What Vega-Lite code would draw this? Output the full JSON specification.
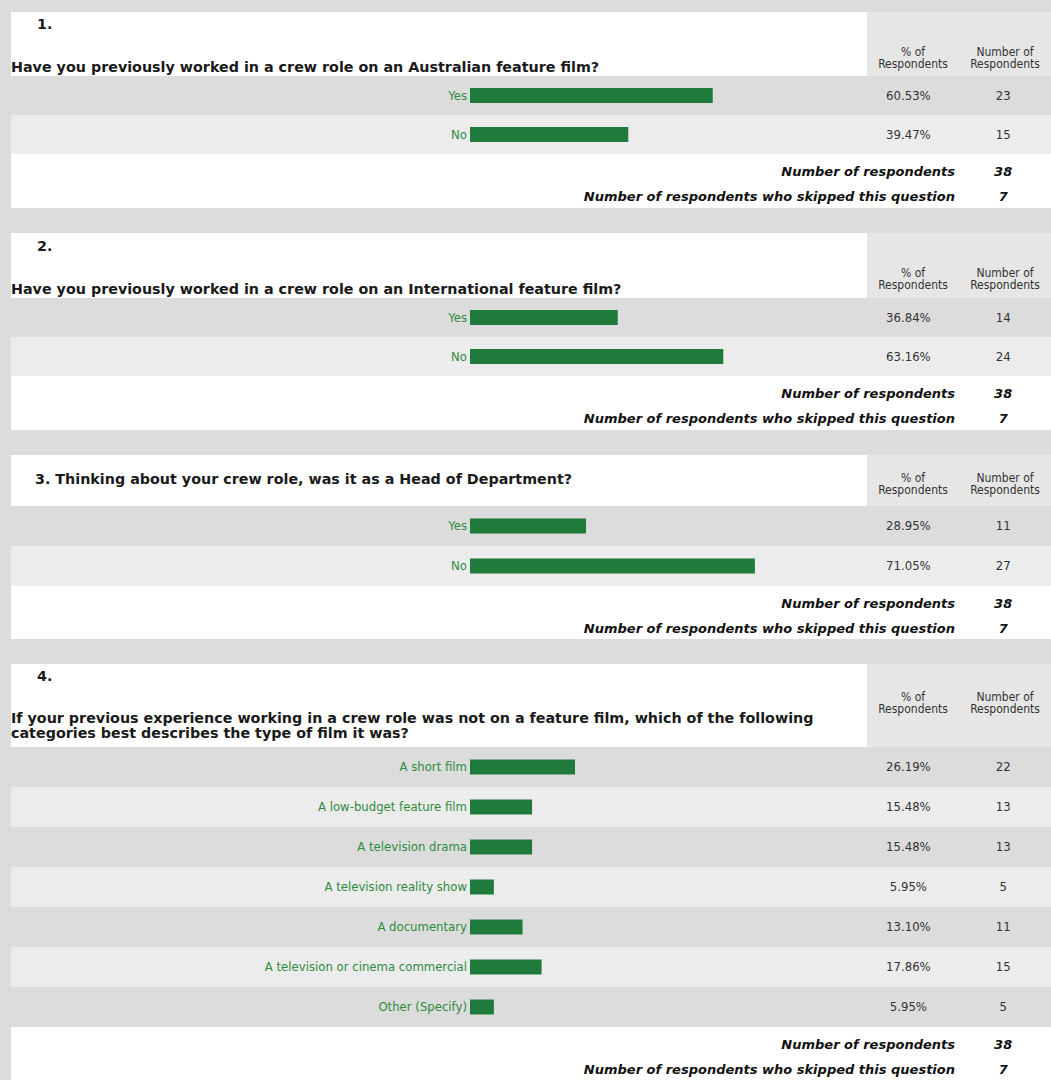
{
  "$schema": "https://vega.github.io/schema/vega-lite/v6.json",
  "background": "#dcdcdc",
  "padding": {"left": 11, "top": 12, "right": 0, "bottom": 0},
  "config": {"view": {"stroke": null, "fill": "white"}},
  "datasets": {
    "answers": [
      {"q": 1, "answer": "Yes", "pct": 0.6053, "n": 23},
      {"q": 1, "answer": "No", "pct": 0.3947, "n": 15},
      {"q": 2, "answer": "Yes", "pct": 0.3684, "n": 14},
      {"q": 2, "answer": "No", "pct": 0.6316, "n": 24},
      {"q": 3, "answer": "Yes", "pct": 0.2895, "n": 11},
      {"q": 3, "answer": "No", "pct": 0.7105, "n": 27},
      {"q": 4, "answer": "A short film", "pct": 0.2619, "n": 22},
      {"q": 4, "answer": "A low-budget feature film", "pct": 0.1548, "n": 13},
      {"q": 4, "answer": "A television drama", "pct": 0.1548, "n": 13},
      {"q": 4, "answer": "A television reality show", "pct": 0.0595, "n": 5},
      {"q": 4, "answer": "A documentary", "pct": 0.1310, "n": 11},
      {"q": 4, "answer": "A television or cinema commercial", "pct": 0.1786, "n": 15},
      {"q": 4, "answer": "Other (Specify)", "pct": 0.0595, "n": 5}
    ],
    "footers": [
      {"q": 1, "label": "Number of respondents", "value": 38},
      {"q": 1, "label": "Number of respondents who skipped this question", "value": 7},
      {"q": 2, "label": "Number of respondents", "value": 38},
      {"q": 2, "label": "Number of respondents who skipped this question", "value": 7},
      {"q": 3, "label": "Number of respondents", "value": 38},
      {"q": 3, "label": "Number of respondents who skipped this question", "value": 7},
      {"q": 4, "label": "Number of respondents", "value": 38},
      {"q": 4, "label": "Number of respondents who skipped this question", "value": 7}
    ],
    "headers": [
      {"q": 1, "kind": "num", "text": "1."},
      {"q": 1, "kind": "question", "text": "Have you previously worked in a crew role on an Australian feature film?"},
      {"q": 2, "kind": "num", "text": "2."},
      {"q": 2, "kind": "question", "text": "Have you previously worked in a crew role on an International feature film?"},
      {"q": 3, "kind": "title", "text": "3. Thinking about your crew role, was it as a Head of Department?"},
      {"q": 4, "kind": "num", "text": "4."},
      {"q": 4, "kind": "question", "text": "If your previous experience working in a crew role was not on a feature film, which of the following\ncategories best describes the type of film it was?"}
    ],
    "cols": [
      {"col": "pct", "label": "% of\nRespondents"},
      {"col": "count", "label": "Number of\nRespondents"}
    ]
  },
  "spacing": 25,
  "vconcat": [
    {
      "spacing": 0,
      "vconcat": [
        {
          "width": 1040, "height": 64,
          "layer": [
            {"data": {"name": "cols"}, "mark": {"type": "rect", "color": "#e6e6e6"},
             "encoding": {"x": {"field": "col", "type": "nominal", "scale": {"type": "band", "domain": ["pct", "count"], "range": [856, 1040], "paddingInner": 0, "paddingOuter": 0}, "axis": null}}},
            {"data": {"name": "cols"}, "mark": {"type": "text", "lineBreak": "\n", "font": "Liberation Sans Narrow, DejaVu Sans Condensed, Liberation Sans", "fontSize": 12, "lineHeight": 12, "color": "#333333", "baseline": "middle"},
             "encoding": {"x": {"field": "col", "type": "nominal", "scale": {"type": "band", "domain": ["pct", "count"], "range": [856, 1040], "paddingInner": 0, "paddingOuter": 0}, "axis": null},
                          "y": {"datum": "cols", "type": "nominal", "scale": {"type": "point", "domain": ["cols"], "range": [40, 40]}, "axis": null},
                          "text": {"field": "label"}}},
            {"data": {"name": "headers"}, "transform": [{"filter": "datum.q == 1"}],
             "mark": {"type": "text", "align": "left", "baseline": "middle", "font": "DejaVu Sans", "fontWeight": "bold", "fontSize": 14.3, "color": "#1a1a1a", "lineBreak": "\n", "lineHeight": 14},
             "encoding": {"x": {"field": "kind", "type": "nominal", "scale": {"type": "point", "domain": ["question", "num"], "range": [0, 26], "padding": 0}, "axis": null},
                          "y": {"field": "kind", "type": "nominal", "scale": {"type": "point", "domain": ["num", "question"], "range": [13, 56], "padding": 0}, "axis": null},
                          "text": {"field": "text"}}}
          ],
          "resolve": {"scale": {"x": "independent", "y": "independent"}}
        },
        {
          "width": 1040, "height": 78,
          "data": {"name": "answers"},
          "transform": [{"filter": "datum.q == 1"}, {"window": [{"op": "row_number", "as": "rn"}]}],
          "encoding": {"y": {"field": "answer", "type": "nominal", "sort": null, "scale": {"paddingInner": 0, "paddingOuter": 0}, "axis": null}},
          "layer": [
            {"mark": {"type": "rect"}, "encoding": {"color": {"condition": {"test": "datum.rn % 2 == 1", "value": "#dcdcdc"}, "value": "#ececec"}}},
            {"mark": {"type": "bar", "color": "#1e7b3b", "size": 15}, "encoding": {"x": {"field": "pct", "type": "quantitative", "scale": {"domain": [0, 1], "range": [459, 860]}, "axis": null}}},
            {"mark": {"type": "text", "align": "right", "dx": -3, "font": "Liberation Sans Narrow, DejaVu Sans Condensed, Liberation Sans", "fontSize": 13, "color": "#2e8b3e"},
             "encoding": {"x": {"datum": 0, "type": "quantitative", "scale": {"domain": [0, 1], "range": [459, 860]}, "axis": null}, "text": {"field": "answer"}}},
            {"mark": {"type": "text", "font": "Liberation Sans Narrow, DejaVu Sans Condensed, Liberation Sans", "fontSize": 13, "color": "#333333"},
             "encoding": {"x": {"datum": "pct", "type": "nominal", "scale": {"type": "band", "domain": ["pct", "count"], "range": [856, 1040], "paddingInner": 0, "paddingOuter": 0}, "bandPosition": 0.45, "axis": null}, "text": {"field": "pct", "type": "quantitative", "format": ".2%"}}},
            {"mark": {"type": "text", "font": "Liberation Sans Narrow, DejaVu Sans Condensed, Liberation Sans", "fontSize": 13, "color": "#333333"},
             "encoding": {"x": {"datum": "count", "type": "nominal", "scale": {"type": "band", "domain": ["pct", "count"], "range": [856, 1040], "paddingInner": 0, "paddingOuter": 0}, "bandPosition": 0.48, "axis": null}, "text": {"field": "n", "type": "quantitative"}}}
          ],
          "resolve": {"scale": {"x": "independent"}}
        },
        {
          "width": 1040, "height": 54,
          "data": {"name": "footers"},
          "transform": [{"filter": "datum.q == 1"}],
          "encoding": {"y": {"field": "label", "type": "nominal", "sort": null, "scale": {"type": "band", "range": [5, 55], "paddingInner": 0, "paddingOuter": 0}, "axis": null}},
          "layer": [
            {"mark": {"type": "text", "align": "right", "dx": -4, "font": "DejaVu Sans", "fontStyle": "italic", "fontWeight": "bold", "fontSize": 13, "color": "#111111"},
             "encoding": {"x": {"datum": "count", "type": "nominal", "scale": {"type": "band", "domain": ["pct", "count"], "range": [856, 1040], "paddingInner": 0, "paddingOuter": 0}, "bandPosition": 0, "axis": null}, "text": {"field": "label"}}},
            {"mark": {"type": "text", "font": "DejaVu Sans", "fontStyle": "italic", "fontWeight": "bold", "fontSize": 13, "color": "#111111"},
             "encoding": {"x": {"datum": "count", "type": "nominal", "scale": {"type": "band", "domain": ["pct", "count"], "range": [856, 1040], "paddingInner": 0, "paddingOuter": 0}, "bandPosition": 0.48, "axis": null}, "text": {"field": "value", "type": "quantitative"}}}
          ]
        }
      ]
    },
    {
      "spacing": 0,
      "vconcat": [
        {
          "width": 1040, "height": 65,
          "layer": [
            {"data": {"name": "cols"}, "mark": {"type": "rect", "color": "#e6e6e6"},
             "encoding": {"x": {"field": "col", "type": "nominal", "scale": {"type": "band", "domain": ["pct", "count"], "range": [856, 1040], "paddingInner": 0, "paddingOuter": 0}, "axis": null}}},
            {"data": {"name": "cols"}, "mark": {"type": "text", "lineBreak": "\n", "font": "Liberation Sans Narrow, DejaVu Sans Condensed, Liberation Sans", "fontSize": 12, "lineHeight": 12, "color": "#333333", "baseline": "middle"},
             "encoding": {"x": {"field": "col", "type": "nominal", "scale": {"type": "band", "domain": ["pct", "count"], "range": [856, 1040], "paddingInner": 0, "paddingOuter": 0}, "axis": null},
                          "y": {"datum": "cols", "type": "nominal", "scale": {"type": "point", "domain": ["cols"], "range": [40, 40]}, "axis": null},
                          "text": {"field": "label"}}},
            {"data": {"name": "headers"}, "transform": [{"filter": "datum.q == 2"}],
             "mark": {"type": "text", "align": "left", "baseline": "middle", "font": "DejaVu Sans", "fontWeight": "bold", "fontSize": 14.3, "color": "#1a1a1a", "lineBreak": "\n", "lineHeight": 14},
             "encoding": {"x": {"field": "kind", "type": "nominal", "scale": {"type": "point", "domain": ["question", "num"], "range": [0, 26], "padding": 0}, "axis": null},
                          "y": {"field": "kind", "type": "nominal", "scale": {"type": "point", "domain": ["num", "question"], "range": [14, 57], "padding": 0}, "axis": null},
                          "text": {"field": "text"}}}
          ],
          "resolve": {"scale": {"x": "independent", "y": "independent"}}
        },
        {
          "width": 1040, "height": 78,
          "data": {"name": "answers"},
          "transform": [{"filter": "datum.q == 2"}, {"window": [{"op": "row_number", "as": "rn"}]}],
          "encoding": {"y": {"field": "answer", "type": "nominal", "sort": null, "scale": {"paddingInner": 0, "paddingOuter": 0}, "axis": null}},
          "layer": [
            {"mark": {"type": "rect"}, "encoding": {"color": {"condition": {"test": "datum.rn % 2 == 1", "value": "#dcdcdc"}, "value": "#ececec"}}},
            {"mark": {"type": "bar", "color": "#1e7b3b", "size": 15}, "encoding": {"x": {"field": "pct", "type": "quantitative", "scale": {"domain": [0, 1], "range": [459, 860]}, "axis": null}}},
            {"mark": {"type": "text", "align": "right", "dx": -3, "font": "Liberation Sans Narrow, DejaVu Sans Condensed, Liberation Sans", "fontSize": 13, "color": "#2e8b3e"},
             "encoding": {"x": {"datum": 0, "type": "quantitative", "scale": {"domain": [0, 1], "range": [459, 860]}, "axis": null}, "text": {"field": "answer"}}},
            {"mark": {"type": "text", "font": "Liberation Sans Narrow, DejaVu Sans Condensed, Liberation Sans", "fontSize": 13, "color": "#333333"},
             "encoding": {"x": {"datum": "pct", "type": "nominal", "scale": {"type": "band", "domain": ["pct", "count"], "range": [856, 1040], "paddingInner": 0, "paddingOuter": 0}, "bandPosition": 0.45, "axis": null}, "text": {"field": "pct", "type": "quantitative", "format": ".2%"}}},
            {"mark": {"type": "text", "font": "Liberation Sans Narrow, DejaVu Sans Condensed, Liberation Sans", "fontSize": 13, "color": "#333333"},
             "encoding": {"x": {"datum": "count", "type": "nominal", "scale": {"type": "band", "domain": ["pct", "count"], "range": [856, 1040], "paddingInner": 0, "paddingOuter": 0}, "bandPosition": 0.48, "axis": null}, "text": {"field": "n", "type": "quantitative"}}}
          ],
          "resolve": {"scale": {"x": "independent"}}
        },
        {
          "width": 1040, "height": 54,
          "data": {"name": "footers"},
          "transform": [{"filter": "datum.q == 2"}],
          "encoding": {"y": {"field": "label", "type": "nominal", "sort": null, "scale": {"type": "band", "range": [5, 55], "paddingInner": 0, "paddingOuter": 0}, "axis": null}},
          "layer": [
            {"mark": {"type": "text", "align": "right", "dx": -4, "font": "DejaVu Sans", "fontStyle": "italic", "fontWeight": "bold", "fontSize": 13, "color": "#111111"},
             "encoding": {"x": {"datum": "count", "type": "nominal", "scale": {"type": "band", "domain": ["pct", "count"], "range": [856, 1040], "paddingInner": 0, "paddingOuter": 0}, "bandPosition": 0, "axis": null}, "text": {"field": "label"}}},
            {"mark": {"type": "text", "font": "DejaVu Sans", "fontStyle": "italic", "fontWeight": "bold", "fontSize": 13, "color": "#111111"},
             "encoding": {"x": {"datum": "count", "type": "nominal", "scale": {"type": "band", "domain": ["pct", "count"], "range": [856, 1040], "paddingInner": 0, "paddingOuter": 0}, "bandPosition": 0.48, "axis": null}, "text": {"field": "value", "type": "quantitative"}}}
          ]
        }
      ]
    },
    {
      "spacing": 0,
      "vconcat": [
        {
          "width": 1040, "height": 51,
          "layer": [
            {"data": {"name": "cols"}, "mark": {"type": "rect", "color": "#e6e6e6"},
             "encoding": {"x": {"field": "col", "type": "nominal", "scale": {"type": "band", "domain": ["pct", "count"], "range": [856, 1040], "paddingInner": 0, "paddingOuter": 0}, "axis": null}}},
            {"data": {"name": "cols"}, "mark": {"type": "text", "lineBreak": "\n", "font": "Liberation Sans Narrow, DejaVu Sans Condensed, Liberation Sans", "fontSize": 12, "lineHeight": 12, "color": "#333333", "baseline": "middle"},
             "encoding": {"x": {"field": "col", "type": "nominal", "scale": {"type": "band", "domain": ["pct", "count"], "range": [856, 1040], "paddingInner": 0, "paddingOuter": 0}, "axis": null},
                          "y": {"datum": "cols", "type": "nominal", "scale": {"type": "point", "domain": ["cols"], "range": [23, 23]}, "axis": null},
                          "text": {"field": "label"}}},
            {"data": {"name": "headers"}, "transform": [{"filter": "datum.q == 3"}],
             "mark": {"type": "text", "align": "left", "baseline": "middle", "font": "DejaVu Sans", "fontWeight": "bold", "fontSize": 14.3, "color": "#1a1a1a"},
             "encoding": {"x": {"field": "kind", "type": "nominal", "scale": {"type": "point", "domain": ["title"], "range": [24, 24], "padding": 0}, "axis": null},
                          "y": {"field": "kind", "type": "nominal", "scale": {"type": "point", "domain": ["title"], "range": [25, 25], "padding": 0}, "axis": null},
                          "text": {"field": "text"}}}
          ],
          "resolve": {"scale": {"x": "independent", "y": "independent"}}
        },
        {
          "width": 1040, "height": 80,
          "data": {"name": "answers"},
          "transform": [{"filter": "datum.q == 3"}, {"window": [{"op": "row_number", "as": "rn"}]}],
          "encoding": {"y": {"field": "answer", "type": "nominal", "sort": null, "scale": {"paddingInner": 0, "paddingOuter": 0}, "axis": null}},
          "layer": [
            {"mark": {"type": "rect"}, "encoding": {"color": {"condition": {"test": "datum.rn % 2 == 1", "value": "#dcdcdc"}, "value": "#ececec"}}},
            {"mark": {"type": "bar", "color": "#1e7b3b", "size": 15}, "encoding": {"x": {"field": "pct", "type": "quantitative", "scale": {"domain": [0, 1], "range": [459, 860]}, "axis": null}}},
            {"mark": {"type": "text", "align": "right", "dx": -3, "font": "Liberation Sans Narrow, DejaVu Sans Condensed, Liberation Sans", "fontSize": 13, "color": "#2e8b3e"},
             "encoding": {"x": {"datum": 0, "type": "quantitative", "scale": {"domain": [0, 1], "range": [459, 860]}, "axis": null}, "text": {"field": "answer"}}},
            {"mark": {"type": "text", "font": "Liberation Sans Narrow, DejaVu Sans Condensed, Liberation Sans", "fontSize": 13, "color": "#333333"},
             "encoding": {"x": {"datum": "pct", "type": "nominal", "scale": {"type": "band", "domain": ["pct", "count"], "range": [856, 1040], "paddingInner": 0, "paddingOuter": 0}, "bandPosition": 0.45, "axis": null}, "text": {"field": "pct", "type": "quantitative", "format": ".2%"}}},
            {"mark": {"type": "text", "font": "Liberation Sans Narrow, DejaVu Sans Condensed, Liberation Sans", "fontSize": 13, "color": "#333333"},
             "encoding": {"x": {"datum": "count", "type": "nominal", "scale": {"type": "band", "domain": ["pct", "count"], "range": [856, 1040], "paddingInner": 0, "paddingOuter": 0}, "bandPosition": 0.48, "axis": null}, "text": {"field": "n", "type": "quantitative"}}}
          ],
          "resolve": {"scale": {"x": "independent"}}
        },
        {
          "width": 1040, "height": 53,
          "data": {"name": "footers"},
          "transform": [{"filter": "datum.q == 3"}],
          "encoding": {"y": {"field": "label", "type": "nominal", "sort": null, "scale": {"type": "band", "range": [5, 55], "paddingInner": 0, "paddingOuter": 0}, "axis": null}},
          "layer": [
            {"mark": {"type": "text", "align": "right", "dx": -4, "font": "DejaVu Sans", "fontStyle": "italic", "fontWeight": "bold", "fontSize": 13, "color": "#111111"},
             "encoding": {"x": {"datum": "count", "type": "nominal", "scale": {"type": "band", "domain": ["pct", "count"], "range": [856, 1040], "paddingInner": 0, "paddingOuter": 0}, "bandPosition": 0, "axis": null}, "text": {"field": "label"}}},
            {"mark": {"type": "text", "font": "DejaVu Sans", "fontStyle": "italic", "fontWeight": "bold", "fontSize": 13, "color": "#111111"},
             "encoding": {"x": {"datum": "count", "type": "nominal", "scale": {"type": "band", "domain": ["pct", "count"], "range": [856, 1040], "paddingInner": 0, "paddingOuter": 0}, "bandPosition": 0.48, "axis": null}, "text": {"field": "value", "type": "quantitative"}}}
          ]
        }
      ]
    },
    {
      "spacing": 0,
      "vconcat": [
        {
          "width": 1040, "height": 83,
          "layer": [
            {"data": {"name": "cols"}, "mark": {"type": "rect", "color": "#e6e6e6"},
             "encoding": {"x": {"field": "col", "type": "nominal", "scale": {"type": "band", "domain": ["pct", "count"], "range": [856, 1040], "paddingInner": 0, "paddingOuter": 0}, "axis": null}}},
            {"data": {"name": "cols"}, "mark": {"type": "text", "lineBreak": "\n", "font": "Liberation Sans Narrow, DejaVu Sans Condensed, Liberation Sans", "fontSize": 12, "lineHeight": 12, "color": "#333333", "baseline": "middle"},
             "encoding": {"x": {"field": "col", "type": "nominal", "scale": {"type": "band", "domain": ["pct", "count"], "range": [856, 1040], "paddingInner": 0, "paddingOuter": 0}, "axis": null},
                          "y": {"datum": "cols", "type": "nominal", "scale": {"type": "point", "domain": ["cols"], "range": [33, 33]}, "axis": null},
                          "text": {"field": "label"}}},
            {"data": {"name": "headers"}, "transform": [{"filter": "datum.q == 4"}],
             "mark": {"type": "text", "align": "left", "baseline": "middle", "font": "DejaVu Sans", "fontWeight": "bold", "fontSize": 14.3, "color": "#1a1a1a", "lineBreak": "\n", "lineHeight": 15},
             "encoding": {"x": {"field": "kind", "type": "nominal", "scale": {"type": "point", "domain": ["question", "num"], "range": [0, 26], "padding": 0}, "axis": null},
                          "y": {"field": "kind", "type": "nominal", "scale": {"type": "point", "domain": ["num", "question"], "range": [13, 55], "padding": 0}, "axis": null},
                          "text": {"field": "text"}}}
          ],
          "resolve": {"scale": {"x": "independent", "y": "independent"}}
        },
        {
          "width": 1040, "height": 280,
          "data": {"name": "answers"},
          "transform": [{"filter": "datum.q == 4"}, {"window": [{"op": "row_number", "as": "rn"}]}],
          "encoding": {"y": {"field": "answer", "type": "nominal", "sort": null, "scale": {"paddingInner": 0, "paddingOuter": 0}, "axis": null}},
          "layer": [
            {"mark": {"type": "rect"}, "encoding": {"color": {"condition": {"test": "datum.rn % 2 == 1", "value": "#dcdcdc"}, "value": "#ececec"}}},
            {"mark": {"type": "bar", "color": "#1e7b3b", "size": 15}, "encoding": {"x": {"field": "pct", "type": "quantitative", "scale": {"domain": [0, 1], "range": [459, 860]}, "axis": null}}},
            {"mark": {"type": "text", "align": "right", "dx": -3, "font": "Liberation Sans Narrow, DejaVu Sans Condensed, Liberation Sans", "fontSize": 13, "color": "#2e8b3e"},
             "encoding": {"x": {"datum": 0, "type": "quantitative", "scale": {"domain": [0, 1], "range": [459, 860]}, "axis": null}, "text": {"field": "answer"}}},
            {"mark": {"type": "text", "font": "Liberation Sans Narrow, DejaVu Sans Condensed, Liberation Sans", "fontSize": 13, "color": "#333333"},
             "encoding": {"x": {"datum": "pct", "type": "nominal", "scale": {"type": "band", "domain": ["pct", "count"], "range": [856, 1040], "paddingInner": 0, "paddingOuter": 0}, "bandPosition": 0.45, "axis": null}, "text": {"field": "pct", "type": "quantitative", "format": ".2%"}}},
            {"mark": {"type": "text", "font": "Liberation Sans Narrow, DejaVu Sans Condensed, Liberation Sans", "fontSize": 13, "color": "#333333"},
             "encoding": {"x": {"datum": "count", "type": "nominal", "scale": {"type": "band", "domain": ["pct", "count"], "range": [856, 1040], "paddingInner": 0, "paddingOuter": 0}, "bandPosition": 0.48, "axis": null}, "text": {"field": "n", "type": "quantitative"}}}
          ],
          "resolve": {"scale": {"x": "independent"}}
        },
        {
          "width": 1040, "height": 53,
          "data": {"name": "footers"},
          "transform": [{"filter": "datum.q == 4"}],
          "encoding": {"y": {"field": "label", "type": "nominal", "sort": null, "scale": {"type": "band", "range": [5, 55], "paddingInner": 0, "paddingOuter": 0}, "axis": null}},
          "layer": [
            {"mark": {"type": "text", "align": "right", "dx": -4, "font": "DejaVu Sans", "fontStyle": "italic", "fontWeight": "bold", "fontSize": 13, "color": "#111111"},
             "encoding": {"x": {"datum": "count", "type": "nominal", "scale": {"type": "band", "domain": ["pct", "count"], "range": [856, 1040], "paddingInner": 0, "paddingOuter": 0}, "bandPosition": 0, "axis": null}, "text": {"field": "label"}}},
            {"mark": {"type": "text", "font": "DejaVu Sans", "fontStyle": "italic", "fontWeight": "bold", "fontSize": 13, "color": "#111111"},
             "encoding": {"x": {"datum": "count", "type": "nominal", "scale": {"type": "band", "domain": ["pct", "count"], "range": [856, 1040], "paddingInner": 0, "paddingOuter": 0}, "bandPosition": 0.48, "axis": null}, "text": {"field": "value", "type": "quantitative"}}}
          ]
        }
      ]
    }
  ]
}
